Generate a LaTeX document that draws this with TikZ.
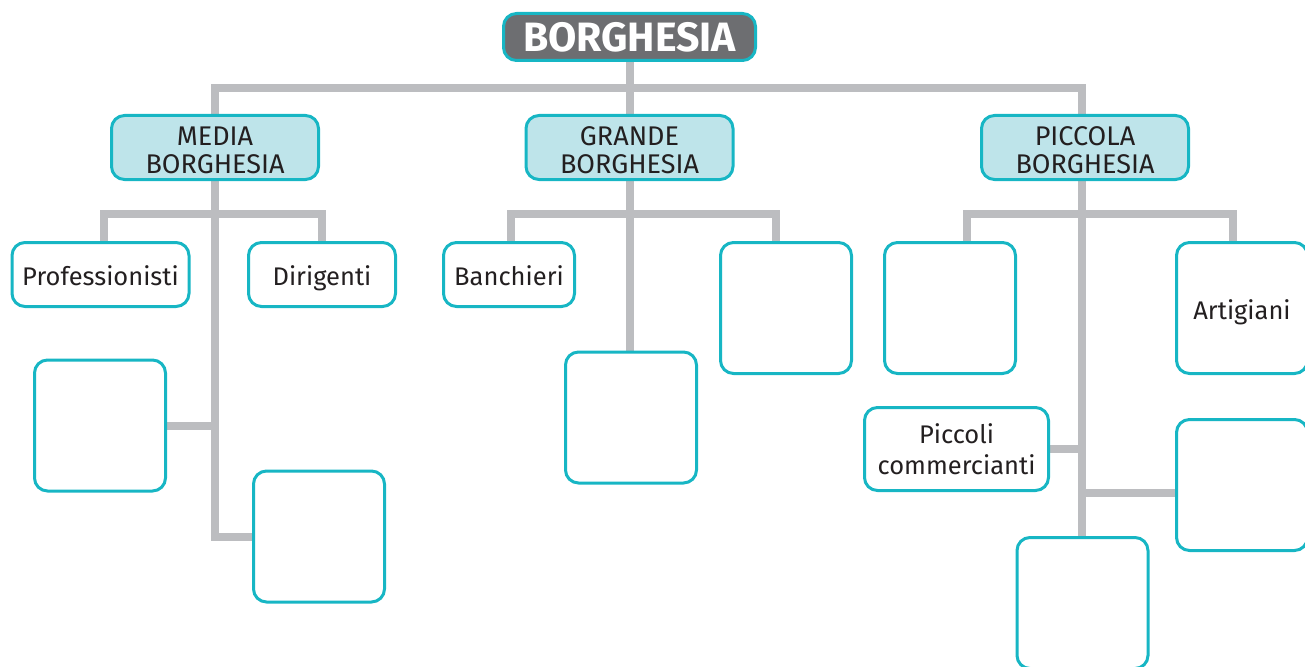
\documentclass[tikz,border=0pt]{standalone}
\usepackage{fontspec}
\setmainfont{Fira Sans}
\usetikzlibrary{backgrounds}
\definecolor{teal}{HTML}{17B6C4}
\definecolor{lfill}{HTML}{BEE4EA}
\definecolor{tgray}{HTML}{6D6E71}
\definecolor{lgray}{HTML}{BCBDC0}
\definecolor{ink}{HTML}{231F20}
\begin{document}
\begin{tikzpicture}[x=1pt,y=-1pt,
  box/.style={draw=teal,line width=3pt,rounded corners=13pt,fill=white,text=ink,
    font=\fontsize{25.5}{28}\selectfont,align=center,inner sep=0pt},
  oneline/.style={text height=25pt,text depth=3pt},
  lvtwo/.style={box,fill=lfill,minimum width=207pt,minimum height=64pt,
    font=\fontsize{27}{28}\selectfont,text height=51pt,text depth=0pt},
  small/.style={box,oneline,minimum height=64pt},
  emptybox/.style={box,minimum width=131pt,minimum height=131pt},
  conn/.style={draw=lgray,line width=8pt,line join=miter}]
\useasboundingbox (0,0) rectangle (1305,666);
\clip (0,0) rectangle (1305,666);
% nodes
\node[box,fill=tgray,text=white,minimum width=252pt,minimum height=47pt,
  font=\fontsize{41}{44}\selectfont\bfseries,text height=30pt,text depth=0pt] (top) at (629.5,37) {BORGHESIA};
\node[lvtwo] (media) at (215,147.5) {MEDIA\\BORGHESIA};
\node[lvtwo] (grande) at (629.5,147.5) {GRANDE\\BORGHESIA};
\node[lvtwo] (piccola) at (1085,147.5) {PICCOLA\\BORGHESIA};
\node[small,minimum width=177pt] (prof) at (100.5,274.5) {Professionisti};
\node[small,minimum width=147pt] (dir) at (322,274.5) {Dirigenti};
\node[emptybox] (ml) at (100,425.5) {};
\node[emptybox] (mb) at (319,536.5) {};
\node[small,minimum width=131pt] (banch) at (509,274.5) {Banchieri};
\node[emptybox] (gm) at (631,417.5) {};
\node[emptybox] (gr) at (786,308) {};
\node[emptybox] (p1) at (950,308) {};
\node[emptybox,oneline] (art) at (1242,308) {Artigiani};
\node[box,minimum width=184pt,minimum height=83pt,font=\fontsize{25.5}{31}\selectfont] (pc) at (956.5,449) {Piccoli\\commercianti};
\node[emptybox] (pr) at (1242,485) {};
\node[emptybox] (pb) at (1082.5,603) {};
% connectors (behind nodes)
\begin{pgfonlayer}{background}
\coordinate (htop) at (629.5,88.5);
\coordinate (hm) at (215,214);
\coordinate (hg) at (629.5,214);
\coordinate (hp) at (1082,214);
\draw[conn] (top.south) -- (grande.north);
\draw[conn] (media.north) |- (htop) -| ([xshift=-3pt]piccola.north);
% media
\draw[conn] ([xshift=3pt]prof.north) |- (hm) -| (dir.north);
\draw[conn] (media.south) |- (mb.west);
\draw[conn] (ml.east) -- (ml.east -| media.south);
% grande
\draw[conn] ([xshift=2pt]banch.north) |- (hg) -| ([xshift=-10pt]gr.north);
\draw[conn] (grande.south) -- (gm.north -| grande.south);
% piccola
\draw[conn] ([xshift=17pt]p1.north) |- (hp) -| ([xshift=-9pt]art.north);
\draw[conn] ([xshift=-3pt]piccola.south) -- (pb.north -| hp);
\draw[conn] (pc.east) -- (pc.east -| hp);
\draw[conn] ([yshift=-8pt]pr.west) -- ([yshift=-8pt]pr.west -| hp);
\end{pgfonlayer}
\end{tikzpicture}
\end{document}
